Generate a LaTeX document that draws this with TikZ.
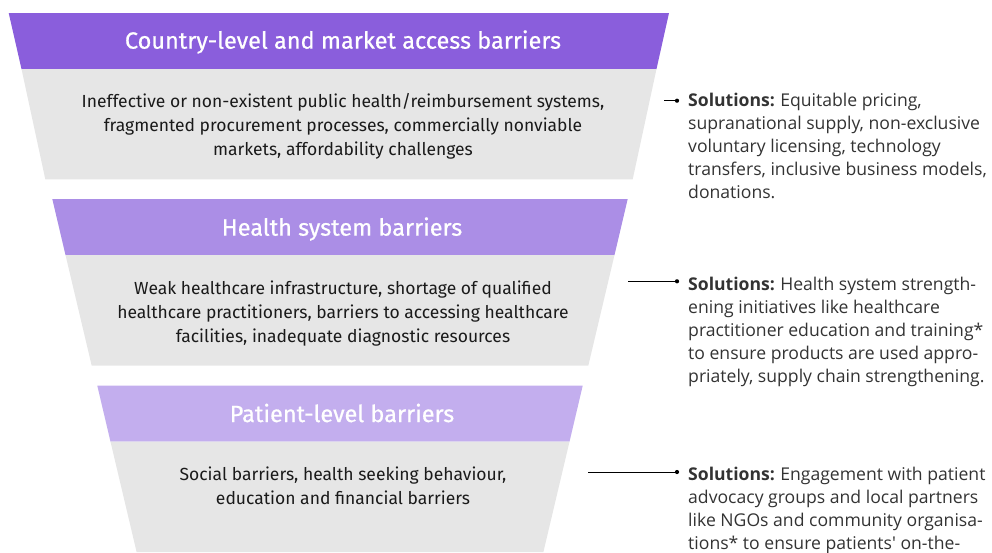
\documentclass[tikz,border=0pt]{standalone}
\usepackage{fontspec}
\setmainfont{Fira Sans}
\newfontfamily\headfont{Fira Sans}[FakeBold=0.6]
\newfontfamily\solfont{Open Sans}
\definecolor{hone}{HTML}{8A5EDC}
\definecolor{htwo}{HTML}{AB8EE6}
\definecolor{hthree}{HTML}{C3AEEE}
\definecolor{boxgray}{HTML}{E6E6E6}
\definecolor{bodytxt}{HTML}{1A1A1A}
\definecolor{soltxt}{HTML}{333333}
\tikzset{
  headtxt/.style={text=white, font=\headfont\fontsize{23.5}{26}\selectfont, inner sep=0pt, anchor=center},
  bodytext/.style={text=bodytxt, font=\fontsize{17.5}{24}\selectfont, align=center, inner sep=0pt, anchor=center},
  sol/.style={text=soltxt, font=\solfont\fontsize{17.6}{23}\selectfont, align=left, inner sep=0pt, anchor=base west},
  dotnode/.style={circle, fill=black, inner sep=0pt, minimum size=4.2pt},
  conn/.style={draw=black, line width=0.9pt},
}
\begin{document}
\begin{tikzpicture}[x=1pt,y=-1pt]
\useasboundingbox (0,0) rectangle (992,552);
% panel 1
\fill[hone] (8.7,13) -- (669,13) -- (656.5,69) -- (21.5,69) -- cycle;
\fill[boxgray] (21.5,69) -- (656.5,69) -- (632.7,179.3) -- (45.3,179.3) -- cycle;
% panel 2
\fill[htwo] (52.3,199) -- (627.7,199) -- (614.5,255) -- (65.5,255) -- cycle;
\fill[boxgray] (65.5,255) -- (614.5,255) -- (588.3,365.7) -- (91.7,365.7) -- cycle;
% panel 3
\fill[hthree] (97.3,385.7) -- (582.7,385.7) -- (569.5,441.7) -- (110.5,441.7) -- cycle;
\fill[boxgray] (110.5,441.7) -- (569.5,441.7) -- (543.4,552) -- (136.6,552) -- cycle;

\node[headtxt] (h1) at (343,42) {Country-level and market access barriers};
\node[headtxt] (h2) at (342,229) {Health system barriers};
\node[headtxt] (h3) at (342,413) {Patient-level barriers};

\node[bodytext] (b1) at (343,126) {Ineffective or non-existent public health/reimbursement systems,\\fragmented procurement processes, commercially nonviable\\markets, affordability challenges};
\node[bodytext] (b2) at (343,313.5) {Weak healthcare infrastructure, shortage of qualified\\healthcare practitioners, barriers to accessing healthcare\\facilities, inadequate diagnostic resources};
\node[bodytext] (b3) at (343,485.5) {Social barriers, health seeking behaviour,\\education and financial barriers};

\node[sol] (s1) at (688,198) {\textbf{Solutions:}\hspace{0.3em}Equitable pricing,\\supranational supply, non-exclusive\\voluntary licensing, technology\\transfers, inclusive business models,\\donations.};
\node[sol] (s2) at (688,382) {\textbf{Solutions:}\hspace{0.3em}Health system strength-\\ening initiatives like healthcare\\practitioner education and training*\\to ensure products are used appro-\\priately, supply chain strengthening.};
\node[sol] (s3) at (688,549) {\textbf{Solutions:}\hspace{0.3em}Engagement with patient\\advocacy groups and local partners\\like NGOs and community organisa-\\tions* to ensure patients' on-the-};

\coordinate (c1) at (664,100.7);
\coordinate (c2) at (628,281.3);
\coordinate (c3) at (588,472);
\node[dotnode] (d1) at (677,100.7) {};
\node[dotnode] (d2) at (677,281.3) {};
\node[dotnode] (d3) at (677,472) {};
\draw[conn] (c1) -- (d1);
\draw[conn] (c2) -- (d2);
\draw[conn] (c3) -- (d3);
\end{tikzpicture}
\end{document}
